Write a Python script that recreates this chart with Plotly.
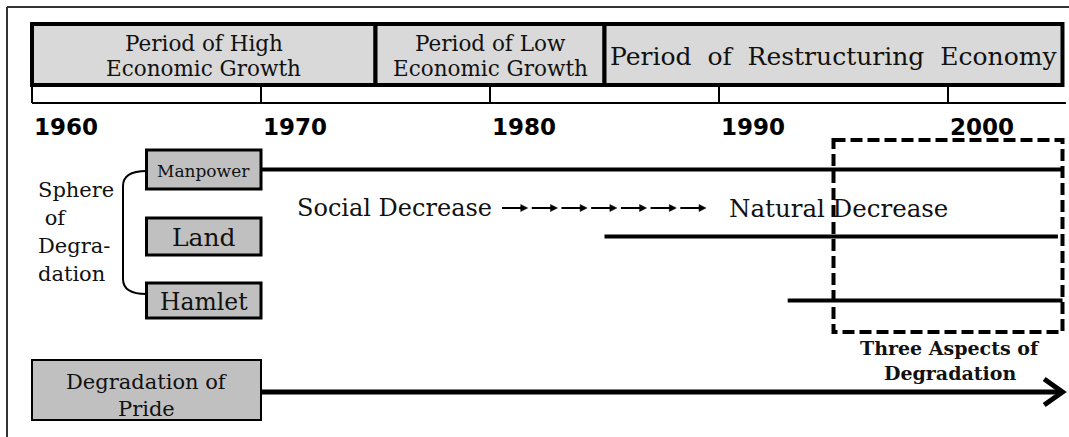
import plotly.graph_objects as go

# ---- data ----
period_lines = [["Period of High", "Economic Growth"],
                ["Period of Low", "Economic Growth"],
                ["Period  of  Restructuring  Economy"]]
period_start = [1960, 1975, 1985]
period_end = [1975, 1985, 2005]
tick_years = [1960, 1970, 1980, 1990, 2000]
sphere_labels = ["Manpower", "Land", "Hamlet"]
sphere_box_start = [1965, 1965, 1965]
sphere_box_end = [1970, 1970, 1970]
decline_start = [1970, 1985, 1993]
decline_end = [2005, 2004.8, 2005]
focus_start, focus_end = 1995, 2005
pride_start, pride_end = 1970, 2005
timeline_end = 2005.15
sphere_text = ["Sphere", " of", "Degra-", "dation"]
n_arrows = 7

# ---- layout helpers (screen pixels) ----
PX = 22.9          # px per year
X0 = 32            # screen pixel of 1960
W, H = 1069, 437
xr = [1960 - X0 / PX, 1960 + (W - X0) / PX]


def yr(px):
    return 1960 + (px - X0) / PX


SERIF = "DejaVu Serif"
SANS = "DejaVu Sans"
TXT = "#111111"

sphere_rows = [(150, 189), (218, 255), (283, 318)]
sphere_sizes = [17, 25, 23.5]

fig = go.Figure()
shapes = []
ann = []


def text(x, y, s, size, anchor="center", family=SERIF, bold=False):
    ann.append(dict(x=x, y=y, xref="x", yref="y", text=f"<b>{s}</b>" if bold else s,
                    showarrow=False, xanchor=anchor, yanchor="middle",
                    font=dict(family=family, size=size, color=TXT)))


# outer frame (top and left)
shapes.append(dict(type="line", xref="x", yref="y", x0=yr(7), x1=yr(1075), y0=7, y1=7,
                   line=dict(color="#333333", width=2)))
shapes.append(dict(type="line", xref="x", yref="y", x0=yr(7), x1=yr(7), y0=7, y1=445,
                   line=dict(color="#333333", width=2)))

# header periods
for lines, s, e in zip(period_lines, period_start, period_end):
    shapes.append(dict(type="rect", xref="x", yref="y", x0=s, x1=e, y0=24, y1=85,
                       fillcolor="#d9d9d9", line=dict(color="black", width=4), layer="below"))
    if len(lines) == 1:
        text((s + e) / 2, 56, lines[0], 25)
    else:
        text((s + e) / 2, 43, lines[0], 21.5)
        text((s + e) / 2, 68, lines[1], 21.5)

# timeline axis
shapes.append(dict(type="line", xref="x", yref="y", x0=tick_years[0], x1=timeline_end,
                   y0=103, y1=103, line=dict(color="black", width=2)))
for y in tick_years:
    shapes.append(dict(type="line", xref="x", yref="y", x0=y, x1=y, y0=86, y1=103,
                       line=dict(color="black", width=2)))
    ann.append(dict(x=y, y=127, xref="x", yref="y", text="<b>%d</b>" % y, showarrow=False,
                    xanchor="left", yanchor="middle", xshift=0,
                    font=dict(family=SANS, size=23, color="black")))

# decline lines (drawn as traces)
for (r0, r1), s, e in zip(sphere_rows, decline_start, decline_end):
    yc = (r0 + r1) / 2
    fig.add_trace(go.Scatter(x=[s, e], y=[yc, yc], mode="lines",
                             line=dict(color="black", width=4), hoverinfo="skip",
                             showlegend=False))

# sphere boxes
for lab, s, e, (r0, r1), fs in zip(sphere_labels, sphere_box_start, sphere_box_end,
                                   sphere_rows, sphere_sizes):
    shapes.append(dict(type="rect", xref="x", yref="y", x0=s, x1=e, y0=r0, y1=r1,
                       fillcolor="#c0c0c0", line=dict(color="black", width=3)))
    text((s + e) / 2, (r0 + r1) / 2 + 1, lab, fs)

# bracket
bx = yr(123)
bx2 = sphere_box_start[0]
shapes.append(dict(type="path", xref="x", yref="y",
                   path=f"M {bx2},171 Q {bx},171 {bx},186 L {bx},279 Q {bx},294 {bx2},294",
                   line=dict(color="black", width=2)))
for i, s in enumerate(sphere_text):
    text(yr(36), 190 + 28 * i, s, 21, anchor="left")

# social -> natural decrease
text(yr(295), 208, "Social Decrease", 24, anchor="left")
pitch = (708 - 500) / n_arrows
for i in range(n_arrows):
    xs = 502 + pitch * i
    xe = xs + pitch - 4
    shapes.append(dict(type="line", xref="x", yref="y", x0=yr(xs), x1=yr(xe - 3),
                       y0=208, y1=208, line=dict(color="black", width=2)))
    shapes.append(dict(type="path", xref="x", yref="y",
                       path=f"M {yr(xe - 7)},204.5 L {yr(xe)},208 L {yr(xe - 7)},211.5 Z",
                       fillcolor="black", line=dict(color="black", width=0.5)))
text(yr(727), 208, "Natural Decrease", 24.5, anchor="left")

# focus dashed box
shapes.append(dict(type="rect", xref="x", yref="y", x0=focus_start, x1=focus_end,
                   y0=140, y1=332, line=dict(color="black", width=4, dash="12px,5px")))
text(yr(950), 348, "Three Aspects of", 19, bold=True)
text(yr(950), 373, "Degradation", 19, bold=True)

# pride
shapes.append(dict(type="rect", xref="x", yref="y", x0=1960, x1=1970, y0=360, y1=420,
                   fillcolor="#c0c0c0", line=dict(color="black", width=2)))
text(1965, 382, "Degradation of", 21)
text(1965, 409, "Pride", 21)
fig.add_trace(go.Scatter(x=[pride_start, pride_end - 0.1], y=[392, 392], mode="lines",
                         line=dict(color="black", width=5), hoverinfo="skip",
                         showlegend=False))
ah = 0.8
shapes.append(dict(type="path", xref="x", yref="y",
                   path=f"M {pride_end - ah},379 L {pride_end},392 L {pride_end - ah},405",
                   line=dict(color="black", width=5)))

fig.update_layout(
    width=W, height=H, margin=dict(l=0, r=0, t=0, b=0),
    paper_bgcolor="white", plot_bgcolor="white",
    xaxis=dict(range=xr, visible=False, fixedrange=True),
    yaxis=dict(range=[H, 0], visible=False, fixedrange=True),
    shapes=shapes, annotations=ann, showlegend=False,
)
fig.write_html("out.html", config={"displayModeBar": False},
               post_script="document.body.style.margin='0px';")
